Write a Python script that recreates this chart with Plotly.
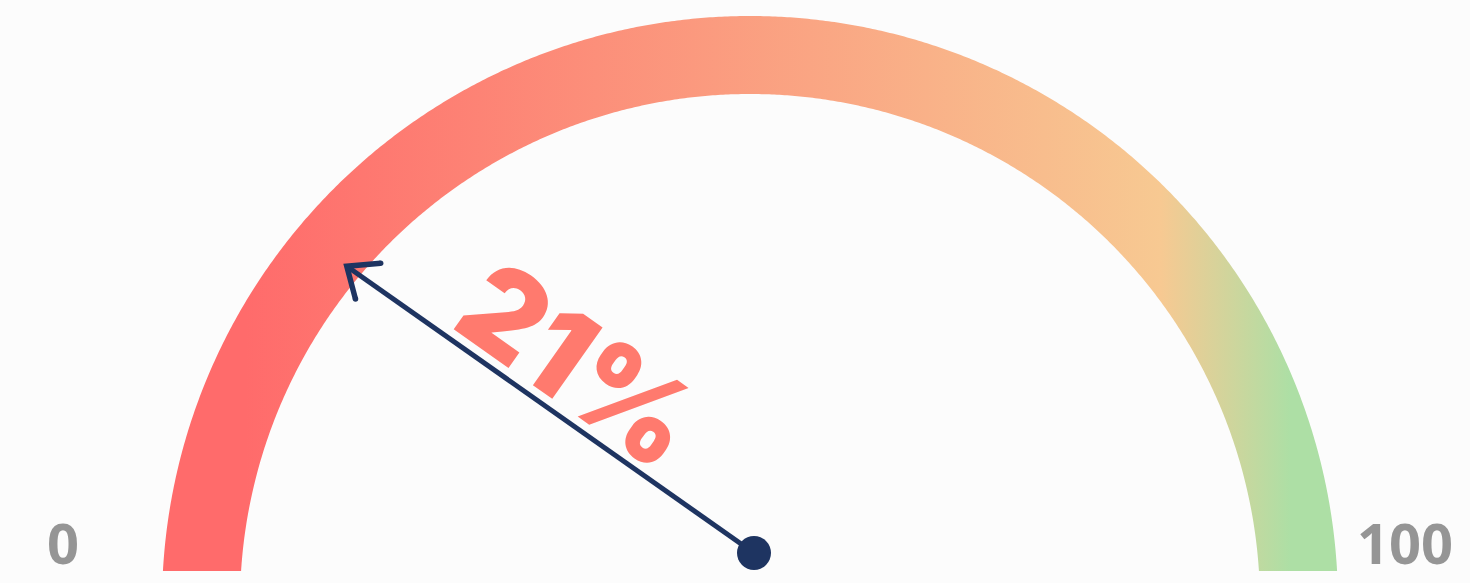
import math
import numpy as np
import plotly.graph_objects as go

# ---- data ----
value = 21
min_value = 0
max_value = 100
value_label = "21%"
min_label = "0"
max_label = "100"
gradient_stops = [0.0, 0.07, 0.85, 0.96, 1.0]
gradient_colors = ["#FF6B6B", "#FF6B6B", "#F7C992", "#ADDFA5", "#ADDFA5"]

# ---- style / geometry ----
W, H = 1470, 583
CX, CY = 750, 604
RO, RI = 588, 510
YCLIP = 571
PIVOT = (754, 553)
TIP_R = 526
NEEDLE_COLOR = "#1E3461"
TEXT_COLOR = "#FF7A6E"
LABEL_COLOR = "#959595"
BG = "#FCFCFC"

a_o = math.degrees(math.asin((CY - YCLIP) / RO))
a_i = math.degrees(math.asin((CY - YCLIP) / RI))

def pt(r, deg):
    t = math.radians(deg)
    return CX + r * math.cos(t), CY - r * math.sin(t)

outer = [pt(RO, d) for d in np.linspace(180 - a_o, a_o, 600)]
inner = [pt(RI, d) for d in np.linspace(a_i, 180 - a_i, 600)]
poly = outer + inner + [outer[0]]
px = [p[0] for p in poly]
py = [p[1] for p in poly]

fig = go.Figure()
fig.add_trace(go.Scatter(
    x=px, y=py, mode="lines", fill="toself", line=dict(width=0, simplify=False),
    fillgradient=dict(type="horizontal",
                      colorscale=[[s, c] for s, c in zip(gradient_stops, gradient_colors)]),
    hoverinfo="skip", showlegend=False))

# needle
frac = (value - min_value) / (max_value - min_value)
theta = (180 - a_i) - frac * (180 - 2 * a_i)
tip = pt(TIP_R, theta)
dx, dy = PIVOT[0] - tip[0], PIVOT[1] - tip[1]
ang = math.degrees(math.atan2(dy, dx))  # clockwise angle in pixel space
L = 34
arm1 = (tip[0] + L * math.cos(math.radians(ang - 40)), tip[1] + L * math.sin(math.radians(ang - 40)))
arm2 = (tip[0] + L * math.cos(math.radians(ang + 40)), tip[1] + L * math.sin(math.radians(ang + 40)))

fig.add_trace(go.Scatter(x=[PIVOT[0], tip[0]], y=[PIVOT[1], tip[1]], mode="lines",
                         line=dict(color=NEEDLE_COLOR, width=5), hoverinfo="skip", showlegend=False))
fig.add_trace(go.Scatter(x=[arm1[0], tip[0], arm2[0]], y=[arm1[1], tip[1], arm2[1]], mode="lines",
                         line=dict(color=NEEDLE_COLOR, width=5.5), hoverinfo="skip", showlegend=False))
fig.add_trace(go.Scatter(x=[arm1[0], arm2[0]], y=[arm1[1], arm2[1]], mode="markers",
                         marker=dict(color=NEEDLE_COLOR, size=5.5, line=dict(width=0)),
                         hoverinfo="skip", showlegend=False))
fig.add_trace(go.Scatter(x=[PIVOT[0]], y=[PIVOT[1]], mode="markers",
                         marker=dict(color=NEEDLE_COLOR, size=34, line=dict(width=0)),
                         hoverinfo="skip", showlegend=False))

# value text along the needle
ux, uy = -dx / math.hypot(dx, dy), -dy / math.hypot(dx, dy)
nx, ny = -uy, ux
if ny > 0:
    nx, ny = -nx, -ny
mx, my = PIVOT[0] - dx * 0.505, PIVOT[1] - dy * 0.505
tx, ty = mx + nx * 54, my + ny * 54
fig.add_annotation(x=tx, y=ty, text=value_label, showarrow=False, textangle=ang,
                   xanchor="center", yanchor="middle",
                   font=dict(family="Inter", size=120, color=TEXT_COLOR, weight=900))

fig.add_annotation(x=63, y=542, text=f"<b>{min_label}</b>", showarrow=False,
                   xanchor="center", yanchor="middle",
                   font=dict(family="Open Sans", size=56, color=LABEL_COLOR))
fig.add_annotation(x=1405, y=542, text=f"<b>{max_label}</b>", showarrow=False,
                   xanchor="center", yanchor="middle",
                   font=dict(family="Open Sans", size=56, color=LABEL_COLOR))

fig.update_layout(
    width=W, height=H, margin=dict(l=0, r=0, t=0, b=0),
    paper_bgcolor=BG, plot_bgcolor=BG,
    xaxis=dict(range=[0, W], visible=False, fixedrange=True),
    yaxis=dict(range=[H, 0], visible=False, fixedrange=True),
    showlegend=False,
)
fig.write_html("out.html")
